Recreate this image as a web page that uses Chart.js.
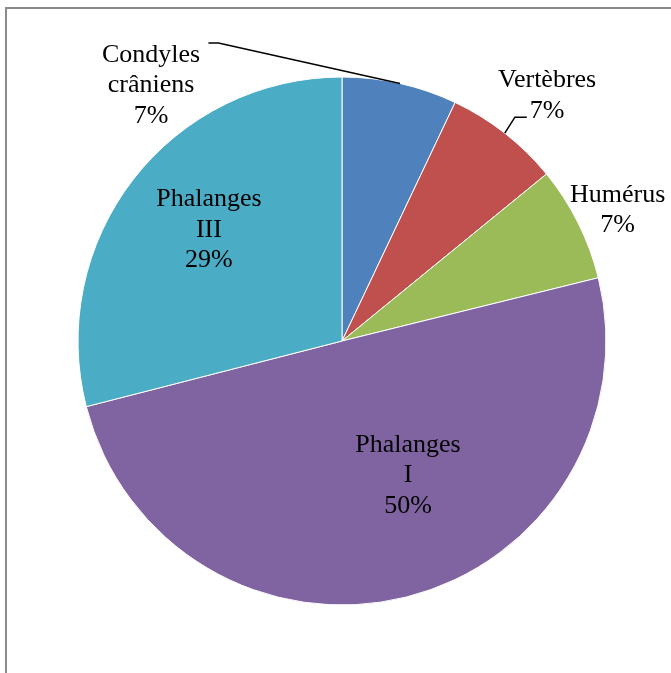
<!DOCTYPE html>
<html>
<head>
<meta charset="utf-8">
<script src="https://cdn.jsdelivr.net/npm/chart.js@4/dist/chart.umd.min.js"></script>
<style>
  body { margin: 0; background: #fff; }
  #frame { position: absolute; left: 5px; top: 7px; width: 720px; height: 720px;
           border-left: 2px solid #8a8a8a; border-top: 2px solid #8a8a8a; }
  #pieChart { position: absolute; left: 0; top: 0; }
</style>
</head>
<body>
<div id="frame"></div>
<canvas id="pieChart" width="671" height="673"></canvas>
<script>
// data (percent shares)
const categories = ['Condyles crâniens', 'Vertèbres', 'Humérus', 'Phalanges I', 'Phalanges III'];
const shares = [7.05, 7.05, 7.05, 49.85, 29.0];
const colors = ['#4f81bd', '#c0504d', '#9bbb59', '#8064a2', '#4bacc6'];

// how each label is split into lines (the percent is appended)
const labelLines = [['Condyles', 'crâniens'], ['Vertèbres'], ['Humérus'], ['Phalanges', 'I'], ['Phalanges', 'III']];

// label placement: first baseline, relative to the pie centre, in radius units
const labelPos = [
    [-0.723, -1.057], [0.777, -0.962], [1.044, -0.527], [0.25, 0.42], [-0.504, -0.511]
];
// leader lines: elbow and end point (radius units), null = none
const leaders = [
    [[-0.468, -1.129], [-0.506, -1.129]],
    [[0.655, -0.848], [0.70, -0.848]],
    null, null, null
];

const total = shares.reduce((a, b) => a + b, 0);

const labelPlugin = {
    id: 'pieLabels',
    afterDatasetsDraw(chart) {
        const ctx = chart.ctx;
        const arcs = chart.getDatasetMeta(0).data;
        ctx.save();
        ctx.font = '26px "Liberation Serif", "Times New Roman", serif';
        ctx.fillStyle = '#000';
        ctx.textAlign = 'center';
        ctx.textBaseline = 'alphabetic';
        arcs.forEach((arc, i) => {
            const { x, y, outerRadius, startAngle, endAngle } = arc.getProps(['x', 'y', 'outerRadius', 'startAngle', 'endAngle'], true);
            const R = outerRadius;
            const pct = Math.round(shares[i] / total * 100) + '%';
            const lines = labelLines[i].concat([pct]);
            const lx = x + labelPos[i][0] * R;
            const ly = y + labelPos[i][1] * R;
            lines.forEach((t, k) => ctx.fillText(t, lx, ly + k * 30.5));

            if (leaders[i]) {
                const mid = (startAngle + endAngle) / 2;
                ctx.strokeStyle = '#000';
                ctx.lineWidth = 1.5;
                ctx.beginPath();
                ctx.moveTo(x + Math.cos(mid) * R, y + Math.sin(mid) * R);
                ctx.lineTo(x + leaders[i][0][0] * R, y + leaders[i][0][1] * R);
                ctx.lineTo(x + leaders[i][1][0] * R, y + leaders[i][1][1] * R);
                ctx.stroke();
            }
        });
        ctx.restore();
    }
};

new Chart(document.getElementById('pieChart'), {
    type: 'pie',
    data: {
        labels: categories,
        datasets: [{
            data: shares,
            backgroundColor: colors,
            borderColor: '#ffffff',
            borderWidth: 1
        }]
    },
    options: {
        responsive: false,
        devicePixelRatio: 1,
        animation: false,
        layout: { padding: { left: 77.5, top: 76.5, right: 64.5, bottom: 67.5 } },
        plugins: {
            legend: { display: false },
            tooltip: { enabled: false }
        }
    },
    plugins: [labelPlugin]
});
</script>
</body>
</html>
